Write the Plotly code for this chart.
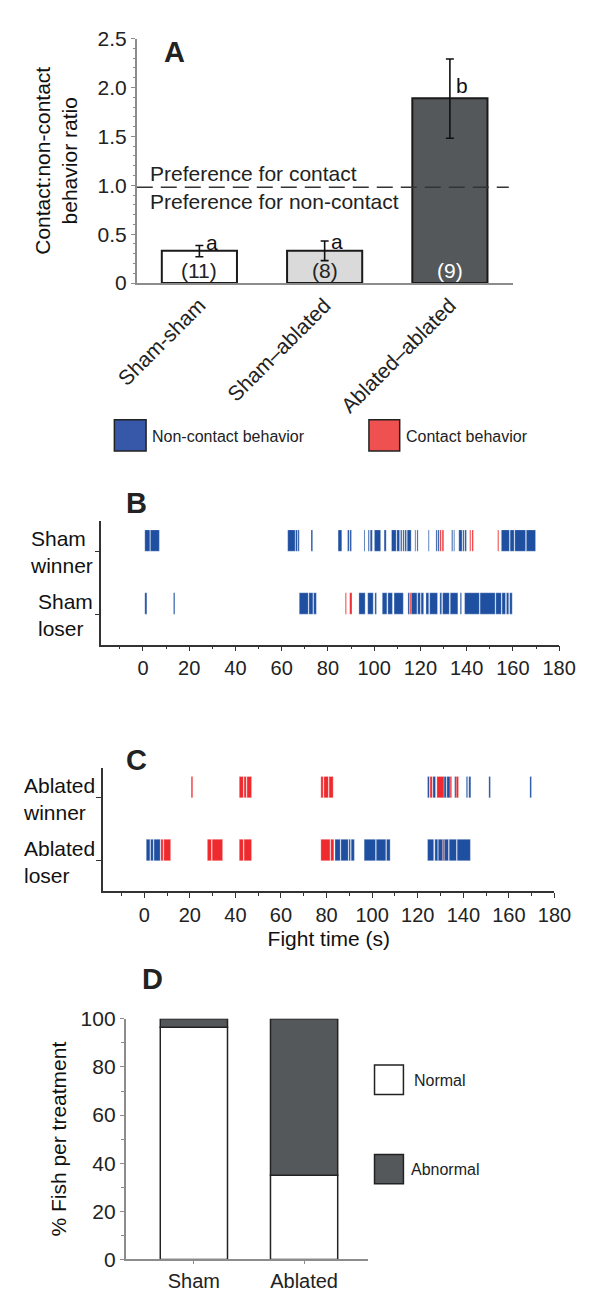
import plotly.graph_objects as go

W, H = 592, 1298
def fx(p): return p / W
def fy(p): return 1 - p / H

FONT = "Arial, Liberation Sans, sans-serif"
BLUE = "#1e4fa0"
RED = "#ee2a2e"

# ---------------- Panel A data ----------------
groups = ["Sham-sham", "Sham\u2013ablated", "Ablated\u2013ablated"]
ratio_mean = [0.33, 0.33, 1.89]
ratio_err_plus = [0.055, 0.10, 0.40]
ratio_err_minus = [0.06, 0.10, 0.41]
sig_letters = ["a", "a", "b"]
n_fish = ["(11)", "(8)", "(9)"]
y_ticks_A = [0, 0.5, 1.0, 1.5, 2.0, 2.5]
y_ticktext_A = ["0", "0.5", "1.0", "1.5", "2.0", "2.5"]

# ---------------- Panel B/C data (start, end) in seconds ----------------
sham_winner_noncontact = [
    (0.8, 3.0), (3.2, 7.1), (62.6, 65.8), (66.0, 66.8), (67.0, 67.6), (72.7, 73.4),
    (84.4, 86.0), (88.5, 89.2), (89.5, 90.2), (95.6, 96.0), (97.4, 97.9), (98.3, 99.2),
    (100.1, 102.8), (104.3, 105.2), (107.5, 109.5), (109.8, 111.0), (111.4, 112.0),
    (112.4, 113.0), (113.3, 114.0), (114.3, 116.0), (117.6, 118.0), (118.5, 119.0),
    (123.4, 123.8), (126.7, 127.2), (127.5, 128.1), (133.5, 134.0), (134.4, 134.8),
    (136.6, 138.0), (138.3, 138.9), (139.2, 139.9), (155.0, 158.5), (158.8, 160.5),
    (160.8, 165.5), (165.8, 169.8)]
sham_winner_contact = [(128.4, 129.0), (129.4, 130.1), (141.3, 141.8), (142.3, 142.9), (153.4, 153.9)]
sham_loser_noncontact = [
    (0.8, 1.7), (13.2, 13.8), (67.6, 71.5), (71.8, 73.5), (73.8, 75.0), (93.4, 96.1),
    (97.2, 99.6), (100.3, 101.0), (103.5, 105.5), (105.9, 107.9), (108.6, 112.6),
    (114.6, 115.3), (116.0, 118.5), (118.8, 120.0), (120.3, 121.4), (122.4, 123.6),
    (124.0, 127.4), (128.4, 129.2), (129.6, 132.5), (132.9, 136.2), (137.2, 137.8),
    (139.1, 145.5), (145.8, 152.3), (152.6, 155.0), (155.3, 156.8), (157.2, 158.2),
    (158.6, 159.7)]
sham_loser_contact = [(87.5, 88.0), (89.4, 90.4), (115.4, 115.9)]

abl_winner_noncontact = [
    (124.3, 125.1), (126.7, 127.8), (131.5, 132.5), (132.8, 134.2), (136.2, 136.9),
    (141.3, 141.9), (142.4, 143.3), (151.2, 151.9), (169.2, 169.9)]
abl_winner_contact = [
    (20.6, 21.3), (41.7, 43.5), (43.8, 44.8), (45.1, 47.1), (77.5, 78.5), (78.8, 80.8),
    (81.1, 82.9), (125.4, 126.4), (128.4, 131.5), (134.2, 134.9), (136.9, 137.9)]
abl_loser_noncontact = [
    (0.9, 2.5), (2.8, 4.0), (4.3, 7.0), (83.7, 86.0), (86.3, 89.5), (89.8, 90.5),
    (90.8, 92.2), (96.5, 101.5), (101.8, 106.0), (106.3, 107.9), (124.3, 127.0),
    (127.5, 128.8), (129.0, 131.0), (131.6, 133.5), (133.8, 137.0), (137.3, 143.1)]
abl_loser_contact = [
    (7.3, 8.3), (8.6, 11.6), (27.7, 29.5), (29.8, 34.4), (41.7, 43.5), (43.8, 47.1),
    (77.5, 81.5), (81.8, 83.2), (131.0, 131.6)]
time_ticks = [0, 20, 40, 60, 80, 100, 120, 140, 160, 180]

# ---------------- Panel D data ----------------
treatments = ["Sham", "Ablated"]
pct_normal = [96.5, 35.0]
pct_abnormal = [3.5, 65.0]

fig = go.Figure()

# ---- Panel A ----
xA = list(range(len(groups)))
fig.add_trace(go.Bar(
    x=xA, y=ratio_mean, width=0.6,
    marker=dict(color=["#ffffff", "#d9dad9", "#54585a"], line=dict(color="#1a1a1a", width=2)),
    error_y=dict(type="data", symmetric=False, array=ratio_err_plus, arrayminus=ratio_err_minus,
                 color="#111", thickness=1.6, width=4),
    xaxis="x", yaxis="y", showlegend=False))
fig.add_trace(go.Scatter(
    x=[-0.5, 2.47], y=[0.98, 0.98], mode="lines",
    line=dict(color="#333", width=1.5, dash="16px,8px"),
    xaxis="x", yaxis="y", showlegend=False))

annotations = []
letter_pos = [(0.1, 0.42), (1.1, 0.43), (2.1, 2.02)]
for i in xA:
    lx, ly = letter_pos[i]
    annotations.append(dict(x=lx, y=ly, xref="x", yref="y", text=sig_letters[i], showarrow=False,
                            font=dict(size=21, color="#111", family=FONT)))
    annotations.append(dict(x=i, y=0, xref="x", yref="y", text=n_fish[i], showarrow=False,
                            yanchor="bottom", yshift=-1,
                            font=dict(size=21, color="#ffffff" if i == 2 else "#222", family=FONT)))
annotations.append(dict(x=-0.41, y=1.125, xref="x", yref="y", xanchor="left", text="Preference for contact",
                        showarrow=False, font=dict(size=21, color="#222", family=FONT)))
annotations.append(dict(x=-0.41, y=0.836, xref="x", yref="y", xanchor="left", text="Preference for non-contact",
                        showarrow=False, font=dict(size=21, color="#222", family=FONT)))

# ---- Panel B/C rasters ----
def raster(events, row, color, xa, ya):
    return go.Bar(orientation="h", y=[row] * len(events), base=[s for s, e in events],
                  x=[e - s for s, e in events], width=0.34, offset=0,
                  marker=dict(color=color, line=dict(color="rgba(255,255,255,0.55)", width=0.5)),
                  xaxis=xa, yaxis=ya, showlegend=False, hoverinfo="skip")

fig.add_trace(raster(sham_winner_noncontact, 1, BLUE, "x2", "y2"))
fig.add_trace(raster(sham_winner_contact, 1, RED, "x2", "y2"))
fig.add_trace(raster(sham_loser_noncontact, 0, BLUE, "x2", "y2"))
fig.add_trace(raster(sham_loser_contact, 0, RED, "x2", "y2"))
fig.add_trace(raster(abl_winner_noncontact, 1, BLUE, "x3", "y3"))
fig.add_trace(raster(abl_winner_contact, 1, RED, "x3", "y3"))
fig.add_trace(raster(abl_loser_noncontact, 0, BLUE, "x3", "y3"))
fig.add_trace(raster(abl_loser_contact, 0, RED, "x3", "y3"))

# ---- Panel D ----
xD = list(range(len(treatments)))
fig.add_trace(go.Bar(x=xD, y=pct_normal, base=[0] * len(xD), width=0.61,
                     marker=dict(color="#ffffff", line=dict(color="#222", width=1.5)),
                     xaxis="x4", yaxis="y4", showlegend=False))
fig.add_trace(go.Bar(x=xD, y=pct_abnormal, base=pct_normal, width=0.61,
                     marker=dict(color="#54585a", line=dict(color="#222", width=1.5)),
                     xaxis="x4", yaxis="y4", showlegend=False))

# ---- Row labels ----
def row_label(text, right_px, y_px):
    return dict(x=fx(right_px), y=fy(y_px), xref="paper", yref="paper", xanchor="right",
                yanchor="middle", align="left", text=text, showarrow=False,
                font=dict(size=21, color="#111", family=FONT))
annotations += [row_label("Sham<br>winner", 77, 550), row_label("Sham<br>loser", 77, 614),
                row_label("Ablated<br>winner", 79, 801), row_label("Ablated<br>loser", 79, 865)]

# ---- Panel letters ----
for t, px, py in [("A", 149, 22), ("B", 108, 500), ("C", 108, 762), ("D", 125, 1003)]:
    annotations.append(dict(x=fx(px), y=fy(py), xref="paper", yref="paper", text=f"<b>{t}</b>",
                            showarrow=False, font=dict(size=29, color="#222", family=FONT)))

# ---- Custom legends ----
shapes = []
def legend_box(x0, y0, x1, y1, color):
    shapes.append(dict(type="rect", xref="paper", yref="paper", x0=fx(x0), x1=fx(x1), y0=fy(y1), y1=fy(y0),
                       fillcolor=color, line=dict(color="#222", width=1.5)))
legend_box(98, 415, 132, 447, "#3758a8")
legend_box(371, 415, 404, 447, "#ef5050")
legend_box(377, 1072, 408, 1102, "#ffffff")
legend_box(377, 1163, 408, 1193, "#54585a")
def legend_text(text, px, py):
    annotations.append(dict(x=fx(px), y=fy(py), xref="paper", yref="paper", xanchor="left", yanchor="middle",
                            text=text, showarrow=False, font=dict(size=16, color="#222", family=FONT)))
legend_text("Non-contact behavior", 136, 432)
legend_text("Contact behavior", 409, 432)
legend_text("Normal", 417, 1088)
legend_text("Abnormal", 414, 1178)

GRAY = "#8c8c8c"
tf = dict(size=20, color="#222", family=FONT)
fig.update_layout(
    width=W, height=H, margin=dict(l=0, r=0, t=0, b=0),
    paper_bgcolor="white", plot_bgcolor="white", barmode="overlay",
    font=dict(family=FONT, color="#222"),
    annotations=annotations, shapes=shapes,
    xaxis=dict(domain=[fx(122), fx(525)], range=[-0.5, 2.5], tickvals=xA, ticktext=groups,
               tickangle=-45, tickfont=dict(size=21, color="#222", family=FONT), showline=True,
               linecolor=GRAY, linewidth=1.5, ticks="", showgrid=False, zeroline=False,
               anchor="y", fixedrange=True),
    yaxis=dict(domain=[fy(276), fy(27)], range=[0, 2.5], tickvals=y_ticks_A, ticktext=y_ticktext_A,
               tickfont=dict(size=21, color="#222", family=FONT), showline=True, linecolor=GRAY,
               linewidth=1.5, ticks="outside", ticklen=4, tickcolor=GRAY,
               minor=dict(dtick=0.1, ticks="outside", ticklen=2, tickcolor=GRAY),
               showgrid=False, zeroline=False, anchor="x",
               title=dict(text="Contact:non-contact<br>behavior ratio", standoff=14,
                          font=dict(size=21, color="#111", family=FONT))),
    xaxis2=dict(domain=[fx(84), fx(575)], range=[-18, 180], tickvals=time_ticks, tickfont=tf,
                showline=True, linecolor="#333", linewidth=1.5, ticks="outside", ticklen=5,
                tickcolor="#333", minor=dict(dtick=10, ticks="outside", ticklen=3, tickcolor="#333"),
                showgrid=False, zeroline=False, anchor="y2"),
    yaxis2=dict(domain=[fy(644), fy(518)], range=[-0.484, 1.484], tickvals=[0, 1], showticklabels=False,
                showline=True, linecolor="#333", linewidth=1.5, ticks="outside", ticklen=5,
                tickcolor="#333", showgrid=False, zeroline=False, anchor="x2"),
    xaxis3=dict(domain=[fx(86), fx(570)], range=[-18, 180], tickvals=time_ticks, tickfont=tf,
                showline=True, linecolor="#333", linewidth=1.5, ticks="outside", ticklen=5,
                tickcolor="#333", minor=dict(dtick=10, ticks="outside", ticklen=3, tickcolor="#333"),
                showgrid=False, zeroline=False, anchor="y3",
                title=dict(text="Fight time (s)", standoff=6, font=dict(size=21, color="#111", family=FONT))),
    yaxis3=dict(domain=[fy(895), fy(770)], range=[-0.484, 1.469], tickvals=[0, 1], showticklabels=False,
                showline=True, linecolor="#333", linewidth=1.5, ticks="outside", ticklen=5,
                tickcolor="#333", showgrid=False, zeroline=False, anchor="x3"),
    xaxis4=dict(domain=[fx(110), fx(370)], range=[-0.62, 1.58], tickvals=xD, ticktext=treatments,
                tickfont=dict(size=20, color="#222", family=FONT), showline=True, linecolor=GRAY,
                linewidth=1.5, ticks="outside", ticklen=3, tickcolor=GRAY, showgrid=False,
                zeroline=False, anchor="y4"),
    yaxis4=dict(domain=[fy(1270), fy(1025)], range=[0, 100], dtick=20, tickfont=dict(size=21, color="#222", family=FONT),
                showline=True, linecolor=GRAY, linewidth=1.5, ticks="outside", ticklen=4, tickcolor=GRAY,
                minor=dict(dtick=10, ticks="outside", ticklen=3, tickcolor=GRAY),
                showgrid=False, zeroline=False, anchor="x4",
                title=dict(text="% Fish per treatment", standoff=8, font=dict(size=21, color="#111", family=FONT))),
)

fig.write_html("out.html", config={"displayModeBar": False},
               post_script="document.body.style.margin='0';")
